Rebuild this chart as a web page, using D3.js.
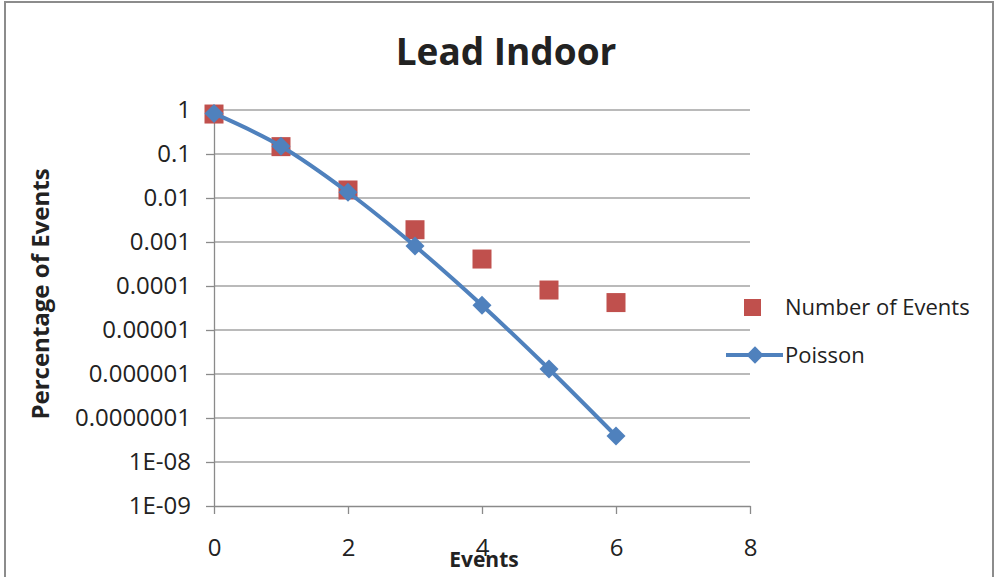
<!DOCTYPE html>
<html>
<head>
<meta charset="utf-8">
<script src="https://cdn.jsdelivr.net/npm/d3@7"></script>
<style>
  html, body { margin: 0; padding: 0; background: #fff; }
  svg { display: block; }
  text { font-family: "Open Sans", "Noto Sans", sans-serif; fill: #222; }
</style>
</head>
<body>
<svg id="chart" width="996" height="577"></svg>
<script>
// Event counts and their share of all recorded events
const events = [0, 1, 2, 3, 4, 5, 6];
const numberOfEvents = [0.81, 0.147, 0.0152, 0.0019, 0.00041, 0.000081, 0.000042];
const poisson = [0.835, 0.150, 0.0135, 0.00081, 0.0000365, 0.0000013, 0.000000039];

const xTickValues = [0, 2, 4, 6, 8];
const yTickValues = [1, 0.1, 0.01, 0.001, 0.0001, 0.00001, 0.000001, 0.0000001, 1e-8, 1e-9];
const yTickLabels = ["1", "0.1", "0.01", "0.001", "0.0001", "0.00001", "0.000001", "0.0000001", "1E-08", "1E-09"];

const seriesNames = ["Number of Events", "Poisson"];
const colors = { events: "#C0504D", poisson: "#4F81BD" };

const svg = d3.select("#chart");

// outer chart frame
svg.append("rect")
  .attr("x", 5).attr("y", 2).attr("width", 988).attr("height", 600)
  .attr("fill", "#fff").attr("stroke", "#8c8c8c").attr("stroke-width", 2);

const plot = { left: 214, right: 750, top: 110, bottom: 506 };

const x = d3.scaleLinear().domain([0, 8]).range([plot.left, plot.right]);
const y = d3.scaleLog().domain([1e-9, 1]).range([plot.bottom, plot.top]);

// horizontal gridlines
svg.append("g")
  .selectAll("line")
  .data(yTickValues.filter(v => v > 1e-9))
  .join("line")
  .attr("x1", plot.left).attr("x2", plot.right)
  .attr("y1", d => y(d)).attr("y2", d => y(d))
  .attr("stroke", "#a3a3a3").attr("stroke-width", 1.3);

// y axis
const yAxis = svg.append("g")
  .attr("transform", `translate(${plot.left},0)`)
  .call(d3.axisLeft(y)
    .tickValues(yTickValues)
    .tickFormat((d, i) => yTickLabels[i])
    .tickSize(8).tickSizeOuter(0).tickPadding(15));

// x axis
const xAxis = svg.append("g")
  .attr("transform", `translate(0,${plot.bottom})`)
  .call(d3.axisBottom(x)
    .tickValues(xTickValues)
    .tickFormat(d3.format("d"))
    .tickSize(8).tickSizeOuter(0).tickPadding(25));

[yAxis, xAxis].forEach(g => {
  g.select(".domain").attr("stroke", "#8a8a8a").attr("stroke-width", 1.3);
  g.selectAll(".tick line").attr("stroke", "#8a8a8a").attr("stroke-width", 1.3);
  g.selectAll(".tick text")
    .attr("fill", "#222")
    .style("font-family", "'Open Sans', sans-serif")
    .style("font-size", "24px");
});

// Number of Events: square markers
const sq = 19;
svg.append("g")
  .selectAll("rect")
  .data(events.map((e, i) => ({ e, v: numberOfEvents[i] })))
  .join("rect")
  .attr("x", d => x(d.e) - sq / 2)
  .attr("y", d => y(d.v) - sq / 2)
  .attr("width", sq).attr("height", sq)
  .attr("fill", colors.events);

// Poisson: smoothed line with diamond markers
const poissonData = events.map((e, i) => ({ e, v: poisson[i] }));
svg.append("path")
  .datum(poissonData)
  .attr("fill", "none")
  .attr("stroke", colors.poisson)
  .attr("stroke-width", 4)
  .attr("stroke-linejoin", "round")
  .attr("d", d3.line().x(d => x(d.e)).y(d => y(d.v)).curve(d3.curveCatmullRom.alpha(0)));

const diamond = d3.symbol().type(d3.symbolSquare).size(180);
svg.append("g")
  .selectAll("path")
  .data(poissonData)
  .join("path")
  .attr("d", diamond)
  .attr("transform", d => `translate(${x(d.e)},${y(d.v)}) rotate(45)`)
  .attr("fill", colors.poisson);

// title
svg.append("text")
  .attr("x", 506).attr("y", 65)
  .attr("text-anchor", "middle")
  .style("font-size", "37px").style("font-weight", "bold")
  .attr("fill", "#000")
  .text("Lead Indoor");

// axis titles
svg.append("text")
  .attr("transform", "translate(49,294) rotate(-90)")
  .attr("text-anchor", "middle")
  .style("font-size", "24px").style("font-weight", "bold")
  .attr("fill", "#000")
  .text("Percentage of Events");

svg.append("text")
  .attr("x", 484).attr("y", 567)
  .attr("text-anchor", "middle")
  .style("font-size", "21px").style("font-weight", "bold")
  .attr("fill", "#000")
  .text("Events");

// legend
const legend = svg.append("g");
legend.append("rect")
  .attr("x", 744).attr("y", 299).attr("width", 17).attr("height", 17)
  .attr("fill", colors.events);
legend.append("text")
  .attr("x", 785).attr("y", 307).attr("dy", "0.35em")
  .style("font-size", "22px")
  .text(seriesNames[0]);

legend.append("line")
  .attr("x1", 726).attr("x2", 783).attr("y1", 355).attr("y2", 355)
  .attr("stroke", colors.poisson).attr("stroke-width", 4);
legend.append("path")
  .attr("d", d3.symbol().type(d3.symbolSquare).size(150))
  .attr("transform", "translate(755,355) rotate(45)")
  .attr("fill", colors.poisson);
legend.append("text")
  .attr("x", 785).attr("y", 355).attr("dy", "0.35em")
  .style("font-size", "22px")
  .text(seriesNames[1]);
</script>
</body>
</html>
